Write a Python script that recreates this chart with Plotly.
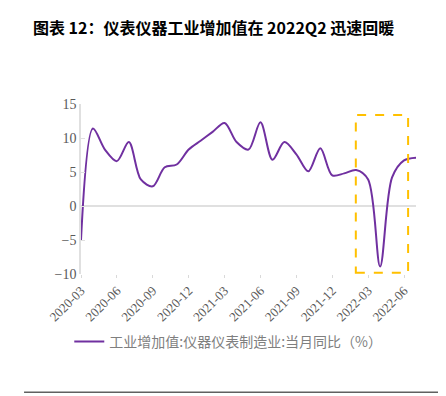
import plotly.graph_objects as go

months = ["2020-03","2020-04","2020-05","2020-06","2020-07","2020-08","2020-09","2020-10","2020-11","2020-12",
          "2021-01","2021-02","2021-03","2021-04","2021-05","2021-06","2021-07","2021-08","2021-09","2021-10",
          "2021-11","2021-12","2022-01","2022-02","2022-03","2022-04","2022-05","2022-06","2022-07"]
values = [-5.0, 11.4, 8.3, 6.6, 9.4, 3.9, 2.9, 5.7, 6.1, 8.3,
          9.6, 10.9, 12.2, 9.4, 8.3, 12.3, 6.8, 9.4, 7.6, 5.1,
          8.5, 4.5, 4.8, 5.3, 3.9, -8.9, 4.2, 6.7, 7.1]
tick_labels = ["2020-03","2020-06","2020-09","2020-12","2021-03","2021-06","2021-09","2021-12","2022-03","2022-06"]
y_ticks = [-10, -5, 0, 5, 10, 15]
series_name = "工业增加值:仪器仪表制造业:当月同比（%）"
box_x = [22.97, 27.34]
box_y = [-9.8, 13.4]

x_idx = list(range(len(months)))
tick_idx = [months.index(t) for t in tick_labels]

fig = go.Figure()
fig.add_trace(go.Scatter(x=x_idx, y=values, mode="lines", name=series_name,
                         line=dict(color="#7030A0", width=2, shape="spline", smoothing=0.9)))

fig.add_shape(type="rect", xref="x", yref="y", x0=box_x[0], x1=box_x[1], y0=box_y[0], y1=box_y[1],
              line=dict(color="#FFC000", width=2, dash="dash"), fillcolor="rgba(0,0,0,0)")

fig.update_layout(
    width=446, height=396,
    margin=dict(l=73, r=38, t=96, b=130, autoexpand=False),
    paper_bgcolor="white", plot_bgcolor="white",
    showlegend=True,
    legend=dict(orientation="h", x=-0.035, xanchor="left", y=-0.40, yanchor="middle",
                font=dict(family="Noto Sans CJK SC", size=14, color="#7f7f7f")),
    title=dict(text="<b>图表 12：仪表仪器工业增加值在 2022Q2 迅速回暖</b>", x=0.056, xanchor="left",
               y=1 - 20 / 396, yref="container", yanchor="middle",
               font=dict(family="Noto Sans CJK SC", size=16, color="#000000")),
    xaxis=dict(range=[0, len(months) - 1], tickvals=tick_idx, ticktext=tick_labels, tickangle=-45,
               showgrid=False, zeroline=False, showline=False, automargin=False,
               ticks="outside", ticklen=3, tickcolor="#d9d9d9",
               tickfont=dict(family="Liberation Serif", size=13, color="#595959")),
    yaxis=dict(range=[-10, 15], tickvals=y_ticks, showgrid=False, automargin=False,
               zeroline=True, zerolinecolor="#e0e0e0", zerolinewidth=1.5,
               showline=True, linecolor="#e0e0e0", linewidth=1.5,
               ticks="inside", ticklen=4, tickcolor="#e0e0e0",
               tickfont=dict(family="Liberation Serif", size=14, color="#595959")),
)

fig.add_shape(type="line", xref="paper", yref="paper", x0=-0.17, x1=1.12, y0=-0.695, y1=-0.695,
              line=dict(color="#606060", width=1.5))
fig.add_annotation(text="资料来源：Wind，华鑫证券研究", xref="paper", yref="paper", x=-0.145, y=-0.72,
                   xanchor="left", yanchor="top", showarrow=False,
                   font=dict(family="Noto Sans CJK SC", size=13, color="#000000"))

fig.write_html("out.html")
